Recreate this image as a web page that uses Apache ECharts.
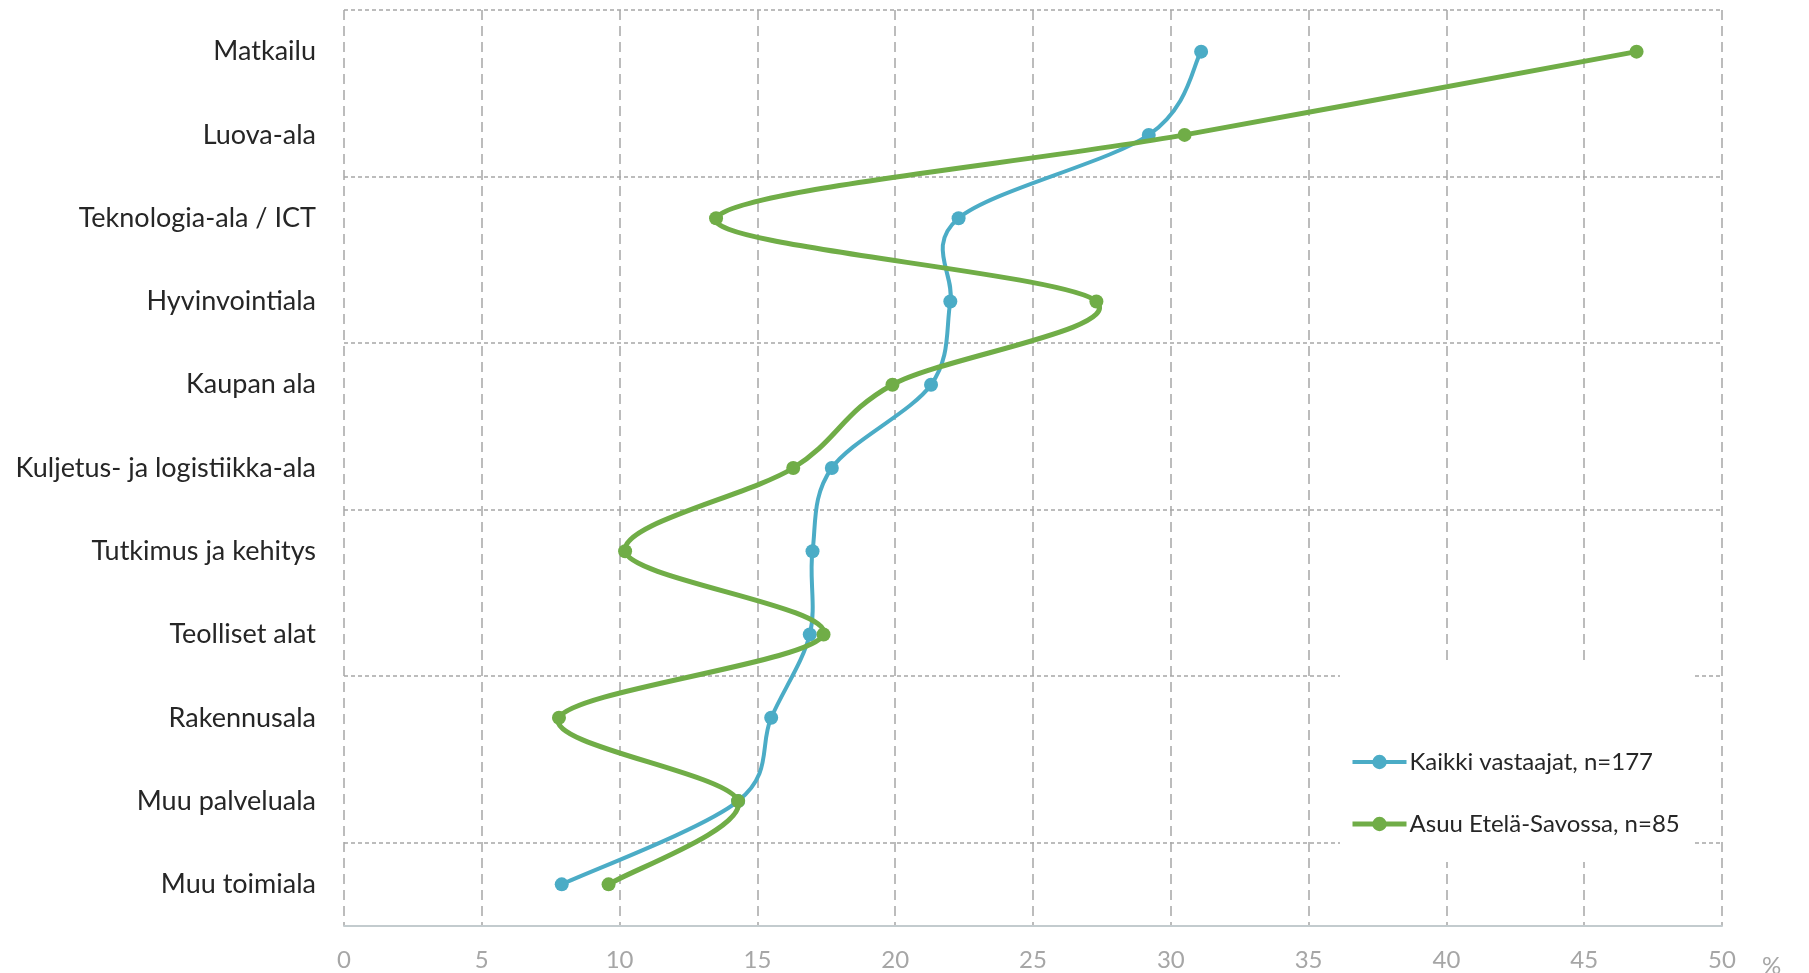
<!DOCTYPE html>
<html>
<head>
<meta charset="utf-8">
<script src="https://cdn.jsdelivr.net/npm/echarts@6/dist/echarts.min.js"></script>
<style>
html,body{margin:0;padding:0;background:#fff;}
#chart{width:1809px;height:973px;}
</style>
</head>
<body>
<div id="chart"></div>
<script>
const categories = ["Matkailu","Luova-ala","Teknologia-ala / ICT","Hyvinvointiala","Kaupan ala","Kuljetus- ja logistiikka-ala","Tutkimus ja kehitys","Teolliset alat","Rakennusala","Muu palveluala","Muu toimiala"];
const seriesNames = ["Kaikki vastaajat, n=177","Asuu Etelä-Savossa, n=85"];
const kaikki = [31.1, 29.2, 22.3, 22.0, 21.3, 17.7, 17.0, 16.9, 15.5, 14.3, 7.9];
const etelaSavo = [46.9, 30.5, 13.5, 27.3, 19.9, 16.3, 10.2, 17.4, 7.8, 14.3, 9.6];
const xTicks = [0, 5, 10, 15, 20, 25, 30, 35, 40, 45, 50];

const colors = ['#4bacc6', '#70ad47'];
const widths = [4, 5];
const font = 'Lato';

// Smooth curve (Catmull-Rom style, like a spreadsheet's smoothed line) built from data via api.coord
function curveSeries(values, idx) {
  return {
    name: seriesNames[idx] + ' curve',
    type: 'custom',
    coordinateSystem: 'cartesian2d',
    silent: true,
    z: idx === 0 ? 2 : 4,
    data: values.map((v, i) => [v, i]),
    encode: {x: 0, y: 1},
    renderItem: function (params, api) {
      const i = params.dataIndex;
      const n = values.length;
      if (i >= n - 1) return null;
      const P = j => {
        const jj = Math.max(0, Math.min(n - 1, j));
        return api.coord([values[jj], jj]);
      };
      const p0 = P(i - 1), p1 = P(i), p2 = P(i + 1), p3 = P(i + 2);
      const t = 1 / 6;
      return {
        type: 'bezierCurve',
        shape: {
          x1: p1[0], y1: p1[1], x2: p2[0], y2: p2[1],
          cpx1: p1[0] + (p2[0] - p0[0]) * t, cpy1: p1[1] + (p2[1] - p0[1]) * t,
          cpx2: p2[0] - (p3[0] - p1[0]) * t, cpy2: p2[1] - (p3[1] - p1[1]) * t
        },
        style: {stroke: colors[idx], lineWidth: widths[idx], fill: null, lineCap: 'round'}
      };
    }
  };
}

function pointSeries(values, idx) {
  return {
    name: seriesNames[idx], type: 'line', data: values, smooth: false,
    symbol: 'circle', symbolSize: 14,
    itemStyle: {color: colors[idx]},
    lineStyle: {color: colors[idx], width: widths[idx], opacity: 0},
    z: idx === 0 ? 3 : 5
  };
}

const chart = echarts.init(document.getElementById('chart'), null, {renderer:'canvas'});
chart.setOption({
  animation: false,
  backgroundColor: '#fff',
  grid: {left: 344, right: 87, top: 10, bottom: 47, containLabel: false, outerBoundsMode: 'none'},
  xAxis: {
    type: 'value', min: xTicks[0], max: xTicks[xTicks.length-1], interval: 5,
    name: '%', nameLocation: 'end', nameGap: 40,
    nameTextStyle: {color: '#a6a6a6', fontSize: 24, fontFamily: font, verticalAlign: 'top', padding: [28,0,0,0]},
    axisLine: {show: true, lineStyle: {color: '#c3cbce', width: 2}},
    axisTick: {show: false},
    axisLabel: {color: '#a6a6a6', fontSize: 24, fontFamily: font, margin: 22},
    splitLine: {show: true, lineStyle: {color: '#a6a6a6', width: 1.5, type: [10, 6]}}
  },
  yAxis: {
    type: 'category', inverse: true, data: categories, boundaryGap: true,
    axisLine: {show: false},
    axisTick: {show: false},
    axisLabel: {color: '#262626', fontSize: 27, fontFamily: font, margin: 28},
    splitLine: {show: true, interval: 1, lineStyle: {color: '#a6a6a6', width: 1.5, type: [4, 3]}}
  },
  legend: {
    orient: 'vertical', left: 1340, top: 662,
    backgroundColor: '#ffffff',
    padding: [87, 14, 25, 10],
    itemGap: 36, itemWidth: 54, itemHeight: 18,
    textStyle: {color: '#262626', fontSize: 24, fontFamily: font, lineHeight: 26, padding: [0,0,0,-2]},
    data: seriesNames.map((nm, k) => ({
      name: nm,
      itemStyle: {color: colors[k], opacity: 1},
      lineStyle: {color: colors[k], width: widths[k], opacity: 1}
    }))
  },
  series: [
    curveSeries(kaikki, 0),
    pointSeries(kaikki, 0),
    curveSeries(etelaSavo, 1),
    pointSeries(etelaSavo, 1)
  ]
});
</script>
</body>
</html>
